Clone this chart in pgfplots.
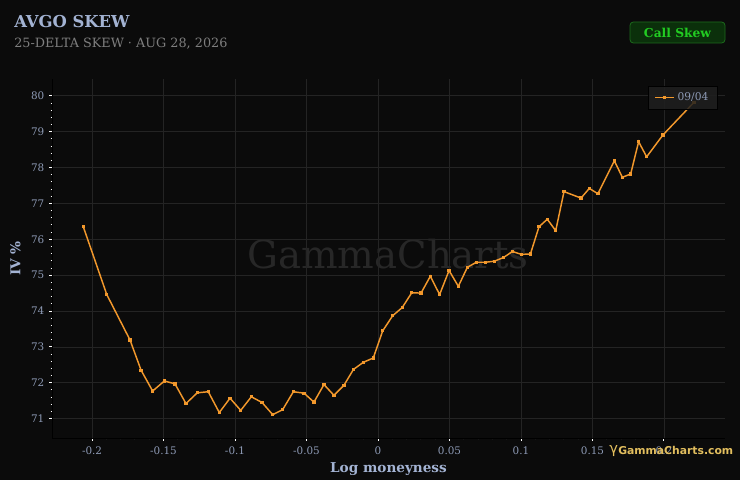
\documentclass[border=0pt]{standalone}
\usepackage{pgfplots}
\pgfplotsset{compat=1.18}
\usepackage{fontspec}
\setmainfont{DejaVu Serif}
\newfontfamily\logofont{DejaVu Sans}
\definecolor{bg}{HTML}{0B0B0B}
\definecolor{gridc}{HTML}{242424}
\definecolor{titlec}{HTML}{A3B3D3}
\definecolor{subc}{HTML}{7E7E7E}
\definecolor{tickc}{HTML}{8E9BB6}
\definecolor{linec}{HTML}{F2982C}
\definecolor{wmc}{HTML}{272727}
\definecolor{btnfill}{HTML}{0B300B}
\definecolor{btndraw}{HTML}{1C6A1C}
\definecolor{btntext}{HTML}{22CC22}
\definecolor{gold}{HTML}{E2BE5E}
\begin{document}
\begin{tikzpicture}
\begin{scope}[x=0.75pt,y=0.75pt]
\fill[bg] (0,0) rectangle (740,480);
\useasboundingbox (0,0) rectangle (740,480);
\node[anchor=base west,inner sep=0,text=titlec,font=\fontsize{12.3}{14}\selectfont\bfseries] at (14,452) {AVGO SKEW};
\node[anchor=base west,inner sep=0,text=subc,font=\fontsize{9.6}{11}\selectfont] at (14,432.5) {25-DELTA SKEW · AUG 28, 2026};
\draw[btndraw,fill=btnfill,rounded corners=2.5pt,line width=0.6pt] (630,437) rectangle (725,458);
\node[text=btntext,font=\fontsize{9.2}{11}\selectfont\bfseries] at (677.5,447.5) {Call Skew};
\node[text=wmc,font=\fontsize{29}{32}\selectfont] at (388,226) {GammaCharts};
\end{scope}
\begin{axis}[
  at={(39pt,31.5pt)}, anchor=south west,
  scale only axis, width=504.75pt, height=269.25pt,
  xmin=-0.228, xmax=0.2427, ymin=70.46, ymax=80.47,
  axis lines=left, axis line style={-,draw=gridc!140},
  xtick={-0.2,-0.15,-0.1,-0.05,0,0.05,0.1,0.15,0.2},
  xticklabels={-0.2,-0.15,-0.1,-0.05,0,0.05,0.1,0.15,0.2},
  ytick={71,72,73,74,75,76,77,78,79,80},
  yticklabels={71,72,73,74,75,76,77,78,79,80},
  minor x tick num=4, minor y tick num=4,
  tick align=outside,
  major tick length=2.2pt, minor tick length=1pt,
  every tick/.style={white,line width=0.7pt},
  grid=major, major grid style={gridc,line width=0.6pt},
  minor grid style={draw=none},
  tick label style={text=tickc,font=\fontsize{7.8}{9}\selectfont},
  xticklabel style={yshift=-1pt},
  xlabel={Log moneyness}, ylabel={IV \%},
  label style={text=titlec,font=\fontsize{10.2}{12}\selectfont\bfseries},
  xlabel style={yshift=1pt},
  ylabel style={yshift=1pt},
  legend style={at={(0.9896,0.981)},anchor=north east,fill=black!88!white,fill opacity=0.85,text opacity=1,draw=gridc!150,text=tickc,font=\fontsize{8}{10}\selectfont,inner xsep=5pt,inner ysep=3pt,row sep=0pt},
  legend image code/.code={\draw[#1,mark repeat=2,mark phase=2] plot coordinates {(0cm,0cm) (0.25cm,0cm) (0.5cm,0cm)};},
  legend cell align=left,
  clip=false,
]
\addplot[linec,line width=1.1pt,mark=square*,mark size=0.7pt,mark options={fill=linec,draw=linec}] coordinates {
(-0.2061,76.35)(-0.1897,74.46)(-0.1734,73.19)(-0.1657,72.35)(-0.1576,71.77)
(-0.1494,72.05)(-0.1420,71.97)(-0.1343,71.42)(-0.1264,71.72)(-0.1187,71.75)
(-0.1110,71.17)(-0.1035,71.57)(-0.0960,71.23)(-0.0886,71.61)(-0.0811,71.45)
(-0.0736,71.11)(-0.0667,71.25)(-0.0592,71.75)(-0.0517,71.71)(-0.0448,71.46)
(-0.0378,71.95)(-0.0308,71.65)(-0.0238,71.93)(-0.0172,72.37)(-0.0103,72.57)
(-0.0033,72.69)(0.0033,73.45)(0.0103,73.87)(0.0170,74.10)(0.0236,74.51)
(0.0301,74.50)(0.0366,74.97)(0.0431,74.46)(0.0497,75.13)(0.0562,74.69)
(0.0625,75.22)(0.0688,75.36)(0.0751,75.36)(0.0814,75.39)(0.0877,75.49)
(0.0940,75.66)(0.1003,75.58)(0.1066,75.59)(0.1126,76.35)(0.1184,76.56)
(0.1243,76.24)(0.1301,77.33)(0.1420,77.15)(0.1478,77.42)(0.1538,77.27)
(0.1653,78.19)(0.1709,77.73)(0.1767,77.82)(0.1823,78.72)(0.1879,78.30)
(0.1993,78.91)(0.2210,79.82)
};
\addlegendentry{09/04}
\end{axis}
\begin{scope}[x=0.75pt,y=0.75pt]
\node[anchor=base west,inner sep=0,text=gold,font=\fontsize{11}{12}\logofont] at (609,26) {γ};
\node[anchor=west,inner sep=0,text=gold,font=\fontsize{8.1}{10}\logofont\bfseries] at (618,30) {GammaCharts.com};
\end{scope}
\end{tikzpicture}
\end{document}
